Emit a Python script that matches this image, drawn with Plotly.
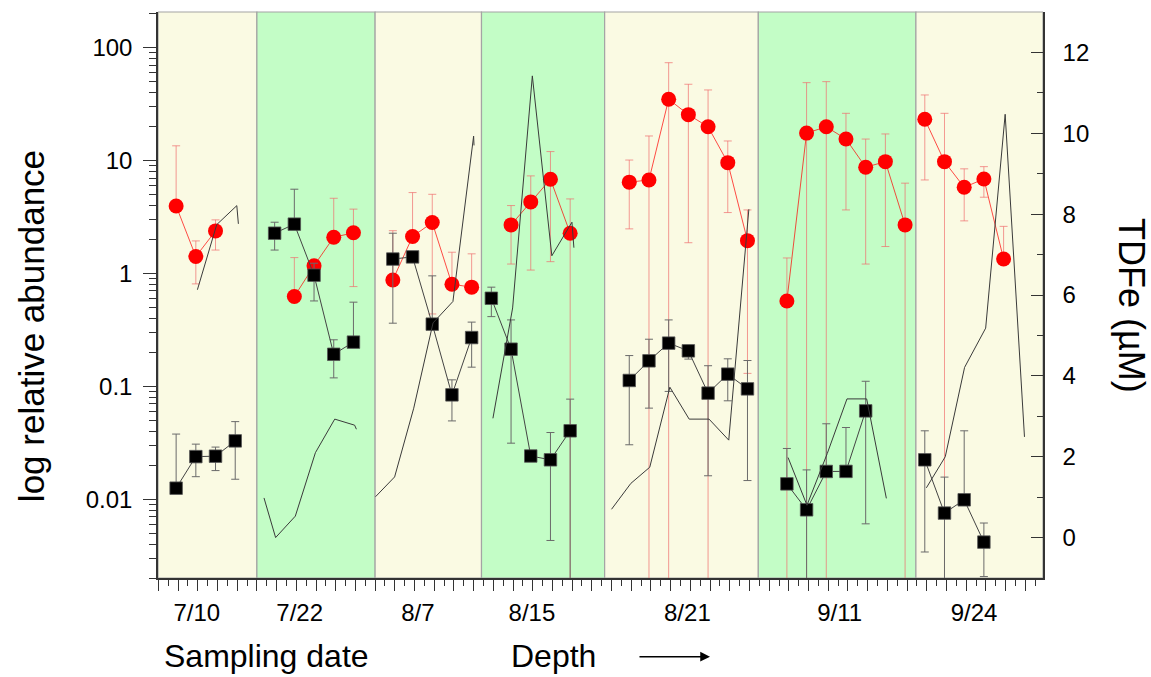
import numpy as np
import plotly.graph_objects as go

# ---------------- data ----------------
dates = ["7/10", "7/22", "8/7", "8/15", "8/21", "9/11", "9/24"]
date_pos = [2.05, 7.27, 13.27, 19.06, 26.95, 34.68, 41.5]
band_edges = [0.08, 5.1, 11.1, 16.5, 22.75, 30.55, 38.55, 45.0]

# red circles (left, log axis)
red_x = [1, 2, 3, 7, 8, 9, 10, 12, 13, 14, 15, 16, 18, 19, 20, 21,
         24, 25, 26, 27, 28, 29, 30, 32, 33, 34, 35, 36, 37, 38,
         39, 40, 41, 42, 43]
red_y = [3.96, 1.41, 2.38, 0.624, 1.17, 2.09, 2.29, 0.875, 2.12, 2.82, 0.802, 0.755,
         2.69, 4.30, 6.83, 2.27, 6.43, 6.73, 34.9, 25.5, 19.9, 9.58, 1.95,
         0.570, 17.5, 19.9, 15.5, 8.73, 9.77, 2.69, 23.2, 9.77, 5.79, 6.87, 1.34]
red_hi = [13.5, 1.94, 2.98, 1.38, 1.30, 4.63, 3.71, 2.39, 5.20, 5.02, 1.54, 1.49,
          3.99, 7.31, 12.0, 4.57, 10.1, 16.5, 73.6, 47.4, 42.2, 14.9, 3.65,
          1.37, 49.0, 50.0, 26.2, 15.5, 17.2, 6.30, 38.1, 26.2, 8.44, 8.83, 2.61]
red_lo = [3.96, 0.807, 1.61, 0.624, 1.05, 2.09, 0.764, 0.875, 2.12, 0.437, 0.802, 0.755,
          1.21, 1.07, 1.27, 0, 2.48, 0, 0, 1.87, 0, 3.46, 0.13,
          0, 0, 0, 3.65, 1.21, 1.73, 0, 6.73, 0, 2.92, 4.73, 1.34]

# black squares (left, log axis)
sq_x = [1, 2, 3, 4, 6, 7, 8, 9, 10, 12, 13, 14, 15, 16, 17, 18, 19, 20, 21,
        24, 25, 26, 27, 28, 29, 30, 32, 33, 34, 35, 36, 39, 40, 41, 42]
sq_y = [0.0125, 0.0238, 0.0240, 0.0328, 2.27, 2.73, 0.964, 0.192, 0.246,
        1.34, 1.40, 0.355, 0.0839, 0.270, 0.602, 0.213, 0.0241, 0.0223, 0.0403,
        0.1125, 0.168, 0.241, 0.206, 0.0869, 0.128, 0.0948,
        0.01365, 0.00804, 0.01758, 0.0176, 0.0605, 0.0223, 0.00752, 0.00986, 0.00416]
sq_hi = [0.0377, 0.0307, 0.0289, 0.0486, 2.84, 5.57, 1.23, 0.258, 0.556,
         2.27, 1.40, 0.951, 0.114, 0.370, 0.755, 0.387, 0.0241, 0.0389, 0.0769,
         0.187, 0.261, 0.387, 0.206, 0.152, 0.175, 0.169,
         0.0281, 0.01815, 0.0465, 0.0431, 0.1107, 0.0403, 0.01567, 0.0403, 0.00614]
sq_lo = [0.0125, 0.0158, 0.0179, 0.0150, 1.61, 2.73, 0.570, 0.1186, 0.246,
         0.362, 1.40, 0.355, 0.0493, 0.1476, 0.414, 0.0313, 0.0241, 0.0043, 0,
         0.0303, 0.064, 0.09, 0.174, 0.0161, 0.0743, 0.0146,
         0.01365, 0, 0.01758, 0.0176, 0.00604, 0.0034, 0, 0.00986, 0.00206]

# TDFe line (right axis, µM)
tdfe_x = [2.08, 3.06, 4.08, 4.16,
          5.46, 6.05, 7.05, 8.07, 9.05, 10.06, 10.15,
          11.12, 12.09, 13.06, 14.04, 15.05, 16.1, 16.12,
          17.08, 18.08, 19.08, 20.07, 21.09, 21.19,
          23.1, 24.08, 25.04, 26.06, 27.04, 28.05, 29.05, 30.07,
          32.06, 33.02, 34.05, 35.05, 36.05, 37.05,
          39.08, 40.04, 41.02, 42.09, 43.08, 44.06]
tdfe_y = [6.13, 7.74, 8.21, 7.76,
          0.98, 0.0, 0.53, 2.10, 2.93, 2.78, 2.68,
          1.01, 1.50, 3.20, 5.31, 5.84, 9.93, 9.70,
          2.95, 5.68, 11.42, 6.97, 7.80, 7.17,
          0.70, 1.34, 1.74, 3.72, 2.93, 2.93, 2.41, 8.12,
          1.98, 0.80, 2.08, 3.43, 3.43, 0.97,
          1.23, 2.0, 4.21, 5.18, 10.47, 2.49]

# ---------------- styling ----------------
CREAM = "#FAFAE3"
GREEN = "#C3FDC6"
BORDER = "#A4A4A4"
FONT = "Liberation Sans, Arial, sans-serif"


def group_of(xs):
    return np.searchsorted(band_edges, np.asarray(xs, float), side="right") - 1


fig = go.Figure()

# red circle series
rx, ry, rh, rl = map(np.asarray, (red_x, red_y, red_hi, red_lo))
rg = group_of(rx)
for g in np.unique(rg):
    m = rg == g
    fig.add_trace(go.Scatter(
        x=rx[m], y=ry[m], mode="lines+markers", yaxis="y",
        line=dict(color="rgba(255,0,0,0.7)", width=1),
        marker=dict(symbol="circle", size=15, color="#FF0000"),
        error_y=dict(type="data", symmetric=False, array=rh[m] - ry[m],
                     arrayminus=ry[m] - rl[m], color="rgba(240,110,110,0.7)",
                     thickness=1, width=4),
        showlegend=False, hoverinfo="x+y"))

# black square series
sx, sy, sh, sl = map(np.asarray, (sq_x, sq_y, sq_hi, sq_lo))
sg = group_of(sx)
for g in np.unique(sg):
    m = sg == g
    fig.add_trace(go.Scatter(
        x=sx[m], y=sy[m], mode="lines+markers", yaxis="y",
        line=dict(color="#444444", width=1),
        marker=dict(symbol="square", size=12.5, color="#000000",
                    line=dict(color="#555555", width=0.8)),
        error_y=dict(type="data", symmetric=False, array=sh[m] - sy[m],
                     arrayminus=sy[m] - sl[m], color="#6a6a6a",
                     thickness=1, width=4),
        showlegend=False, hoverinfo="x+y"))

# TDFe line series (right axis)
tx, ty = np.asarray(tdfe_x), np.asarray(tdfe_y)
tg = group_of(tx)
for g in np.unique(tg):
    m = tg == g
    fig.add_trace(go.Scatter(
        x=tx[m], y=ty[m], mode="lines", yaxis="y2",
        line=dict(color="#3a3a3a", width=1),
        showlegend=False, hoverinfo="x+y"))

# dummy trace for the date-label axis
fig.add_trace(go.Scatter(x=[None], y=[None], xaxis="x2", yaxis="y",
                         showlegend=False, hoverinfo="skip"))

# background bands per sampling date
for i in range(len(dates)):
    fig.add_shape(type="rect", xref="x", yref="paper",
                  x0=band_edges[i], x1=band_edges[i + 1], y0=0, y1=1,
                  fillcolor=CREAM if i % 2 == 0 else GREEN,
                  line=dict(color=BORDER, width=1.2), layer="below")

minor_log = [m * 10.0 ** e for e in range(-3, 3) for m in range(2, 10)
             if 0.0019 < m * 10.0 ** e < 210]

fig.update_layout(
    width=1151, height=677,
    margin=dict(l=158, r=108, t=12, b=99),
    paper_bgcolor="white", plot_bgcolor="white",
    showlegend=False,
    font=dict(family=FONT, color="black"),
    xaxis=dict(range=[0.08, 45], tickmode="linear", tick0=0.1, dtick=1,
               ticks="outside", ticklen=11, tickwidth=1, tickcolor="#333333",
               showticklabels=False, showline=True, linecolor="#333333",
               linewidth=1.5, showgrid=False, zeroline=False,
               minor=dict(tickmode="linear", tick0=0.6, dtick=1, ticks="outside",
                          ticklen=6, tickwidth=1, tickcolor="#333333", showgrid=False)),
    xaxis2=dict(overlaying="x", anchor="y", side="bottom", range=[0.08, 45],
                tickmode="array", tickvals=date_pos, ticktext=dates, ticks="",
                showline=False, showgrid=False, zeroline=False,
                tickfont=dict(size=24, family=FONT, color="black"),
                ticklabelstandoff=18),
    yaxis=dict(type="log", range=[np.log10(0.002), 2.316],
               tickmode="array", tickvals=[0.01, 0.1, 1, 10, 100],
               ticktext=["0.01", "0.1", "1", "10", "100"],
               ticks="outside", ticklen=13, tickwidth=1, tickcolor="#333333",
               showline=True, linecolor="#333333", linewidth=1.5,
               showgrid=False, zeroline=False,
               tickfont=dict(size=24, family=FONT, color="black"),
               ticklabelstandoff=6,
               minor=dict(tickmode="array", tickvals=minor_log, ticks="outside",
                          ticklen=7, tickwidth=1, tickcolor="#333333", showgrid=False)),
    yaxis2=dict(overlaying="y", anchor="x", side="right", range=[-1, 13],
                tickmode="linear", tick0=0, dtick=2,
                ticks="inside", ticklen=12, tickwidth=1, tickcolor="#333333",
                showline=True, linecolor="#333333", linewidth=1.5,
                showgrid=False, zeroline=False,
                tickfont=dict(size=24, family=FONT, color="black"),
                ticklabelstandoff=13,
                minor=dict(tickmode="linear", tick0=1, dtick=2, ticks="inside",
                           ticklen=6, tickwidth=1, tickcolor="#333333", showgrid=False)),
)

annotations = [
    dict(text="log relative abundance", x=-0.1435, y=0.445, textangle=-90,
         font=dict(size=35)),
    dict(text="TDFe (µM)", x=1.0994, y=0.4806, textangle=90, font=dict(size=36)),
    dict(text="Sampling date", x=0.0045, y=-0.1385, xanchor="left", font=dict(size=32)),
    dict(text="Depth", x=0.3966, y=-0.1385, xanchor="left", font=dict(size=32)),
]
for a in annotations:
    a.setdefault("xanchor", "center")
    a.update(xref="paper", yref="paper", yanchor="middle", showarrow=False)
    a["font"].update(family=FONT, color="black")
    fig.add_annotation(**a)

# depth arrow
fig.add_annotation(x=0.6237, y=-0.139, xref="paper", yref="paper", text="",
                   showarrow=True, ax=-72, ay=0, arrowhead=2, arrowsize=1.3,
                   arrowwidth=1.5, arrowcolor="black")

fig.write_html("out.html",
               config={"displayModeBar": False},
               post_script="document.body.style.margin='0px';"
                           "document.body.style.overflow='hidden';")
